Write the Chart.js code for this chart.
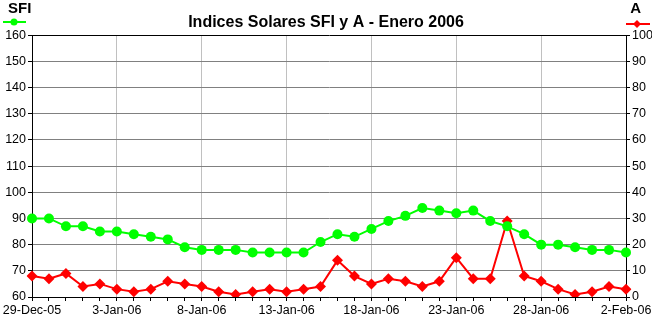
<!DOCTYPE html>
<html>
<head>
<meta charset="utf-8">
<script src="https://cdn.jsdelivr.net/npm/chart.js@4/dist/chart.umd.min.js"></script>
<style>
  html, body { margin: 0; padding: 0; background: #fff; }
  #wrap { width: 652px; height: 325px; position: relative; }
</style>
</head>
<body>
<div id="wrap"><canvas id="c"></canvas></div>
<script>
// fechas diarias 29-Dec-05 .. 2-Feb-06
const dias = [
  '29-Dec-05','30-Dec-05','31-Dec-05','1-Jan-06','2-Jan-06','3-Jan-06','4-Jan-06','5-Jan-06','6-Jan-06',
  '7-Jan-06','8-Jan-06','9-Jan-06','10-Jan-06','11-Jan-06','12-Jan-06','13-Jan-06','14-Jan-06','15-Jan-06',
  '16-Jan-06','17-Jan-06','18-Jan-06','19-Jan-06','20-Jan-06','21-Jan-06','22-Jan-06','23-Jan-06','24-Jan-06',
  '25-Jan-06','26-Jan-06','27-Jan-06','28-Jan-06','29-Jan-06','30-Jan-06','31-Jan-06','1-Feb-06','2-Feb-06'
];
const sfi = [90, 90, 87, 87, 85, 85, 84, 83, 82, 79, 78, 78, 78, 77, 77, 77, 77, 81,
             84, 83, 86, 89, 91, 94, 93, 92, 93, 89, 87, 84, 80, 80, 79, 78, 78, 77];
const indiceA = [8, 7, 9, 4, 5, 3, 2, 3, 6, 5, 4, 2, 1, 2, 3, 2, 3, 4,
                 14, 8, 5, 7, 6, 4, 6, 15, 7, 7, 29, 8, 6, 3, 1, 2, 4, 3];

const VERDE = '#00ff00';
const ROJO = '#ff0000';
const FUENTE = '"Liberation Sans", Arial, sans-serif';

// leyendas "SFI" y "A" en las esquinas
const leyendas = {
  id: 'leyendas',
  afterDraw(chart) {
    const ctx = chart.ctx;
    ctx.save();
    ctx.font = 'bold 15px ' + FUENTE;
    ctx.fillStyle = '#000';
    ctx.textBaseline = 'top';
    ctx.textAlign = 'left';
    ctx.fillText('SFI', 8, 1);
    ctx.textAlign = 'right';
    ctx.fillText('A', 641, 1);
    ctx.lineWidth = 2;
    ctx.strokeStyle = VERDE;
    ctx.beginPath(); ctx.moveTo(3, 22); ctx.lineTo(26, 22); ctx.stroke();
    ctx.fillStyle = VERDE;
    ctx.beginPath(); ctx.arc(14, 22, 3.5, 0, Math.PI * 2); ctx.fill();
    ctx.strokeStyle = ROJO;
    ctx.beginPath(); ctx.moveTo(626, 24); ctx.lineTo(650, 24); ctx.stroke();
    ctx.fillStyle = ROJO;
    ctx.beginPath();
    ctx.moveTo(637, 20); ctx.lineTo(641, 24); ctx.lineTo(637, 28); ctx.lineTo(633, 24);
    ctx.closePath(); ctx.fill();
    ctx.restore();
  }
};

const sinPadding = (w) => (s) => {
  if (w !== undefined) s.width = w;
  s.paddingLeft = 0; s.paddingRight = 0; s.paddingTop = 0; s.paddingBottom = 0;
};

new Chart(document.getElementById('c'), {
  type: 'line',
  data: {
    labels: dias,
    datasets: [
      { label: 'SFI', data: sfi, yAxisID: 'y', borderColor: VERDE, backgroundColor: VERDE,
        borderWidth: 2, pointStyle: 'circle', pointRadius: 5, pointBorderWidth: 0, tension: 0 },
      { label: 'A', data: indiceA, yAxisID: 'y2', borderColor: ROJO, backgroundColor: ROJO,
        borderWidth: 2, pointStyle: 'rectRot', pointRadius: 5.5, pointBorderWidth: 0, tension: 0 }
    ]
  },
  plugins: [leyendas],
  options: {
    responsive: true, maintainAspectRatio: false, animation: false,
    layout: { padding: { top: 0, left: 0, right: 0, bottom: 0 } },
    plugins: {
      legend: { display: false },
      tooltip: { enabled: false },
      title: {
        display: true, text: 'Indices Solares SFI y A - Enero 2006',
        color: '#000', font: { family: FUENTE, size: 16, weight: 'bold' },
        padding: { top: 13, bottom: 3 }
      }
    },
    scales: {
      x: {
        offset: false,
        afterFit: (s) => { s.height = 28; s.paddingLeft = 0; s.paddingRight = 0; },
        border: { color: '#000', width: 1 },
        grid: {
          color: (c) => (c.index % 5 === 0 && c.index > 0 && c.index < dias.length - 1) ? '#c0c0c0' : 'rgba(0,0,0,0)',
          tickColor: '#000', tickLength: 4, lineWidth: 1
        },
        ticks: {
          autoSkip: false, maxRotation: 0, minRotation: 0, color: '#000', padding: 2,
          font: { family: FUENTE, size: 12.5 },
          callback: (v, i) => i % 5 === 0 ? dias[i] : ''
        }
      },
      y: {
        position: 'left', min: 60, max: 160,
        afterFit: sinPadding(32),
        border: { color: '#000', width: 1 },
        grid: {
          color: (c) => c.tick && c.tick.value === 160 ? '#000' : '#808080',
          tickColor: '#000', tickLength: 4
        },
        ticks: { stepSize: 10, color: '#000', padding: 2, font: { family: FUENTE, size: 12.5 } }
      },
      y2: {
        position: 'right', min: 0, max: 100,
        afterFit: sinPadding(26),
        border: { color: '#000', width: 1 },
        grid: { drawOnChartArea: false, tickColor: '#000', tickLength: 4 },
        ticks: { stepSize: 10, color: '#000', padding: 2, font: { family: FUENTE, size: 12.5 } }
      }
    }
  }
});
</script>
</body>
</html>
